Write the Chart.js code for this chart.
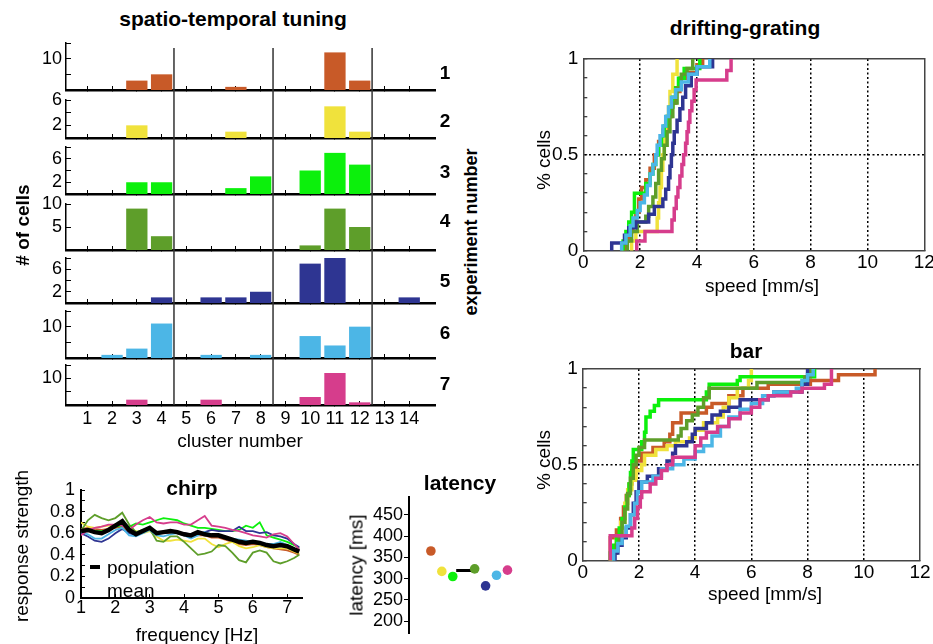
<!DOCTYPE html>
<html><head><meta charset="utf-8">
<script src="https://cdn.jsdelivr.net/npm/chart.js@4.4.1/dist/chart.umd.min.js"></script>
<style>
html,body{margin:0;padding:0;background:#fff;overflow:hidden;}
#fig{position:relative;width:933px;height:644px;overflow:hidden;background:#fff;}
.t{position:absolute;white-space:nowrap;line-height:1;font-family:'Liberation Sans',Arial,sans-serif;color:#000;z-index:10;}
canvas{position:absolute;}
</style></head><body><div id="fig"></div>
<script>
// ---------------- DATA ----------------
const expColors = ['#C85A28','#F0E23C','#0CF00C','#5E9E2A','#2E3592','#4CB6E6','#D63D8C'];
const expNames = ['1','2','3','4','5','6','7'];

// spatio-temporal tuning: # of cells per cluster
const clusters = [1,2,3,4,5,6,7,8,9,10,11,12,13,14];
const exp1 = [0,0,3,5,0,0,1,0,0,0,12,3,0,0];
const exp2 = [0,0,2,0,0,0,1,0,0,0,5,1,0,0];
const exp3 = [0,0,2,2,0,0,1,3,0,4,7,5,0,0];
const exp4 = [0,0,9,3,0,0,0,0,0,1,9,5,0,0];
const exp5 = [0,0,0,1,0,1,1,2,0,7,8,0,0,1];
const exp6 = [0,1,3,11,0,1,0,1,0,7,4,10,0,0];
const exp7 = [0,0,2,0,0,2,0,0,0,3,12,1,0,0];
const clusterBoundaries = [4.5, 8.5, 12.5];
const panelYMax = [15,6,8,10,8,15,15];
const panelYTicks = [[5,10,15],[2,4,6],[2,4,6,8],[5,10],[2,4,6,8],[5,10,15],[5,10,15]];
const panelYLabels = [[10],[2,6],[2,6],[5,10],[2,6],[10],[10]];

// chirp
const freq = [1.0,1.2,1.4,1.6,1.8,2.0,2.2,2.4,2.6,2.8,3.0,3.2,3.4,3.6,3.8,4.0,4.2,4.4,4.6,4.8,5.0,5.2,5.4,5.6,5.8,6.0,6.2,6.4,6.6,6.8,7.0,7.2,7.35];
const chirpMean = [0.62,0.63,0.61,0.60,0.63,0.67,0.71,0.63,0.59,0.62,0.65,0.60,0.61,0.62,0.61,0.59,0.58,0.61,0.59,0.58,0.58,0.56,0.54,0.52,0.51,0.52,0.51,0.49,0.48,0.49,0.48,0.45,0.43];
const chirp1 = [0.64,0.65,0.64,0.63,0.64,0.65,0.66,0.61,0.60,0.62,0.64,0.61,0.60,0.60,0.60,0.58,0.57,0.58,0.58,0.56,0.56,0.54,0.52,0.50,0.49,0.50,0.49,0.47,0.46,0.45,0.44,0.42,0.40];
const chirp2 = [0.70,0.66,0.65,0.66,0.67,0.68,0.67,0.63,0.62,0.60,0.62,0.57,0.53,0.53,0.54,0.53,0.52,0.55,0.55,0.50,0.47,0.50,0.52,0.48,0.46,0.47,0.49,0.47,0.46,0.46,0.46,0.43,0.41];
const chirp3 = [0.62,0.63,0.62,0.62,0.63,0.66,0.67,0.66,0.69,0.68,0.70,0.72,0.74,0.73,0.72,0.69,0.67,0.65,0.65,0.64,0.63,0.62,0.62,0.63,0.67,0.65,0.70,0.58,0.56,0.54,0.52,0.49,0.46];
const chirp4 = [0.62,0.72,0.77,0.74,0.72,0.74,0.79,0.68,0.61,0.63,0.64,0.53,0.52,0.57,0.57,0.52,0.46,0.40,0.41,0.43,0.49,0.48,0.42,0.35,0.33,0.42,0.44,0.42,0.34,0.32,0.34,0.37,0.40];
const chirp5 = [0.60,0.57,0.53,0.52,0.55,0.60,0.64,0.60,0.58,0.62,0.64,0.60,0.60,0.61,0.60,0.60,0.59,0.60,0.61,0.63,0.62,0.62,0.62,0.66,0.62,0.62,0.60,0.61,0.58,0.57,0.55,0.50,0.47];
const chirp6 = [0.61,0.59,0.55,0.55,0.59,0.63,0.65,0.58,0.57,0.60,0.63,0.58,0.57,0.59,0.60,0.58,0.55,0.58,0.61,0.59,0.57,0.56,0.55,0.54,0.53,0.52,0.51,0.50,0.50,0.52,0.49,0.46,0.44];
const chirp7 = [0.58,0.63,0.65,0.66,0.68,0.68,0.67,0.63,0.68,0.72,0.75,0.70,0.69,0.70,0.70,0.68,0.68,0.72,0.76,0.67,0.66,0.65,0.63,0.62,0.60,0.58,0.57,0.56,0.59,0.60,0.57,0.50,0.45];
const freqTicks = [1,2,3,4,5,6,7];
const chirpYTicks = [0,0.1,0.2,0.3,0.4,0.5,0.6,0.7,0.8,0.9,1];
const chirpYLabels = [0,0.2,0.4,0.6,0.8,1];

// latency
const latencyPos = [1,2,3,5,6,7,8];
const latency = [365,317,305,323,283,308,320];
const latencyMeanPos = 4;
const latencyMean = 319;
const latencyTicks = [200,250,300,350,400,450];

// speed tuning CDFs: [speed mm/s, fraction of cells]
const dg1 = [[1.45,0],[1.45,0.05],[1.6,0.1],[1.75,0.15],[1.85,0.2],[1.95,0.27],[2.05,0.33],[2.2,0.37],[2.35,0.43],[2.5,0.5],[2.65,0.57],[2.8,0.63],[2.95,0.7],[3.1,0.77],[3.25,0.83],[3.4,0.9],[3.6,0.93],[4.0,0.97],[4.2,1.0]];
const dg2 = [[1.7,0],[1.7,0.05],[1.85,0.1],[2.6,0.1],[2.6,0.17],[2.65,0.25],[2.7,0.33],[2.75,0.42],[2.8,0.5],[2.85,0.58],[2.9,0.67],[3.0,0.75],[3.05,0.83],[3.15,0.92],[3.3,1.0]];
const dg3 = [[1.4,0],[1.4,0.05],[1.5,0.1],[1.6,0.15],[1.7,0.2],[1.8,0.3],[2.15,0.3],[2.2,0.35],[2.35,0.4],[2.45,0.45],[2.55,0.5],[2.65,0.55],[2.75,0.6],[2.85,0.65],[2.95,0.7],[3.05,0.75],[3.15,0.8],[3.25,0.85],[3.35,0.9],[3.55,0.95],[4.1,1.0]];
const dg4 = [[1.55,0],[1.55,0.05],[1.7,0.1],[1.9,0.15],[2.2,0.18],[2.3,0.23],[2.45,0.28],[2.55,0.35],[2.65,0.42],[2.75,0.48],[2.85,0.55],[2.95,0.62],[3.05,0.7],[3.15,0.77],[3.3,0.85],[3.45,0.92],[3.65,0.95],[3.85,1.0]];
const dg5 = [[1.0,0],[1.0,0.04],[1.45,0.04],[1.45,0.08],[1.6,0.12],[1.85,0.15],[2.3,0.15],[2.3,0.19],[2.5,0.23],[2.75,0.23],[2.8,0.27],[2.9,0.32],[3.0,0.38],[3.05,0.44],[3.1,0.5],[3.15,0.56],[3.2,0.62],[3.3,0.68],[3.4,0.74],[3.5,0.8],[3.6,0.86],[3.8,0.92],[4.0,0.96],[4.55,1.0]];
const dg6 = [[1.35,0],[1.35,0.04],[1.5,0.08],[1.65,0.13],[1.75,0.17],[1.9,0.21],[2.0,0.25],[2.15,0.29],[2.25,0.34],[2.35,0.4],[2.45,0.45],[2.55,0.5],[2.6,0.55],[2.7,0.6],[2.8,0.65],[2.9,0.7],[3.0,0.75],[3.1,0.8],[3.25,0.84],[3.45,0.88],[3.7,0.92],[4.0,0.96],[4.45,1.0]];
const dg7 = [[1.88,0],[1.88,0.05],[2.17,0.1],[3.12,0.16],[3.2,0.22],[3.27,0.28],[3.33,0.33],[3.4,0.39],[3.47,0.45],[3.53,0.5],[3.6,0.56],[3.65,0.62],[3.7,0.67],[3.75,0.73],[3.82,0.78],[3.9,0.84],[3.97,0.89],[5.05,0.94],[5.2,1.0]];

const bar1 = [[0.98,0],[0.98,0.12],[1.2,0.16],[1.35,0.22],[1.45,0.28],[1.55,0.34],[1.65,0.4],[1.75,0.47],[1.9,0.52],[2.1,0.56],[2.5,0.59],[2.9,0.62],[3.1,0.66],[3.2,0.72],[3.5,0.77],[4.4,0.8],[4.6,0.82],[5.2,0.86],[5.7,0.9],[6.6,0.92],[8.1,0.94],[9.1,0.97],[10.4,1.0]];
const bar2 = [[1.0,0],[1.0,0.05],[1.2,0.12],[1.35,0.2],[1.5,0.3],[1.6,0.37],[1.75,0.42],[1.9,0.47],[2.1,0.5],[2.2,0.55],[2.6,0.58],[3.0,0.6],[3.3,0.62],[3.8,0.64],[4.0,0.68],[4.3,0.72],[4.8,0.75],[5.0,0.8],[5.2,0.85],[5.5,0.9],[5.9,0.94],[6.0,1.0]];
const bar3 = [[0.98,0],[0.98,0.04],[1.1,0.08],[1.2,0.12],[1.3,0.17],[1.4,0.22],[1.5,0.28],[1.58,0.34],[1.65,0.4],[1.7,0.46],[1.75,0.52],[1.8,0.58],[2.1,0.62],[2.2,0.67],[2.25,0.75],[2.4,0.78],[2.55,0.81],[2.7,0.84],[4.4,0.88],[4.5,0.92],[5.5,0.94],[5.6,0.96],[8.25,1.0]];
const bar4 = [[1.1,0],[1.1,0.04],[1.2,0.08],[1.3,0.13],[1.4,0.2],[1.5,0.27],[1.6,0.35],[1.7,0.43],[1.8,0.5],[1.9,0.55],[2.0,0.59],[2.2,0.63],[3.4,0.65],[3.5,0.69],[3.7,0.73],[3.9,0.76],[4.1,0.8],[4.3,0.85],[4.5,0.9],[6.2,0.93],[7.9,0.96],[8.1,1.0]];
const bar5 = [[1.15,0],[1.15,0.04],[1.25,0.08],[1.4,0.12],[1.55,0.17],[1.7,0.24],[1.8,0.3],[1.9,0.36],[2.0,0.41],[2.3,0.44],[2.7,0.48],[3.0,0.52],[3.2,0.56],[3.3,0.6],[3.7,0.62],[3.9,0.66],[4.0,0.69],[4.4,0.72],[4.6,0.76],[4.9,0.78],[5.2,0.8],[5.6,0.84],[6.6,0.86],[6.8,0.88],[7.8,0.92],[8.0,1.0]];
const bar6 = [[1.1,0],[1.1,0.05],[1.25,0.09],[1.4,0.13],[1.55,0.18],[1.7,0.24],[1.85,0.3],[1.95,0.36],[2.1,0.41],[2.5,0.44],[2.8,0.48],[3.2,0.5],[3.6,0.53],[4.0,0.57],[4.3,0.6],[4.6,0.65],[4.9,0.7],[5.2,0.75],[5.6,0.79],[6.0,0.82],[6.4,0.86],[6.8,0.88],[7.6,0.9],[7.8,0.94],[8.0,0.97],[8.2,1.0]];
const bar7 = [[0.98,0],[0.98,0.13],[1.75,0.17],[1.85,0.22],[1.95,0.28],[2.05,0.33],[2.1,0.36],[2.4,0.4],[2.6,0.43],[2.8,0.47],[3.0,0.5],[3.2,0.54],[4.0,0.6],[4.2,0.64],[4.4,0.67],[4.8,0.7],[5.2,0.74],[5.6,0.77],[6.0,0.8],[6.3,0.84],[6.6,0.86],[7.4,0.88],[7.8,0.9],[8.6,0.92],[8.85,1.0]];
const speedTicks = [0,2,4,6,8,10,12];
const pctTicks = [0,0.1,0.2,0.3,0.4,0.5,0.6,0.7,0.8,0.9,1];
const pctLabels = [0,0.5,1];

// ---------------- RENDER ----------------
const FONT = "'Liberation Sans', Arial, sans-serif";
Chart.defaults.font.family = FONT;
Chart.defaults.color = '#000';
const fig = document.getElementById('fig');
const TICK = 18;

function addCanvas(l, t, w, h, z) {
  const c = document.createElement('canvas');
  c.width = w; c.height = h;
  c.style.cssText = `left:${l}px;top:${t}px;width:${w}px;height:${h}px;z-index:${z||1}`;
  fig.appendChild(c);
  return c;
}
function txt(s, x, y, size, bold, rot, anchorLeft) {
  const d = document.createElement('div');
  d.className = 't';
  d.textContent = s;
  d.style.left = x + 'px'; d.style.top = y + 'px';
  d.style.fontSize = size + 'px';
  d.style.fontWeight = bold ? 'bold' : 'normal';
  d.style.transform = (anchorLeft ? 'translate(0,-50%)' : 'translate(-50%,-50%)') + (rot ? ' rotate(-90deg)' : '');
  fig.appendChild(d);
}
const baseOpts = () => ({
  responsive: false, animation: false, events: [],
  plugins: { legend: { display: false }, tooltip: { enabled: false } }
});
const fixW = w => s => { s.width = w; s.paddingTop = 0; s.paddingBottom = 0; };
const fixH = h => s => { s.height = h; s.paddingLeft = 0; s.paddingRight = 0; };

// ---- spatio-temporal tuning panels ----
const expCounts = [exp1, exp2, exp3, exp4, exp5, exp6, exp7];
const panelTop = [43,100,147,204,258,311,365];
const panelBottom = [90,138,194,250,303,358,405];
const CL_MIN = 0.14, CL_MAX = 15.04;
expCounts.forEach((vals, i) => {
  const last = i === 6;
  const padTop = 12, xH = last ? 30 : 3;
  const h = panelBottom[i] - panelTop[i] + padTop + xH;
  const cv = addCanvas(0, panelTop[i] - padTop, 440, h, 1);
  new Chart(cv, {
    type: 'bar',
    data: { datasets: [{ data: clusters.map((c, k) => ({ x: c, y: vals[k] })), backgroundColor: expColors[i], borderWidth: 0, barPercentage: 0.86, categoryPercentage: 1 }] },
    options: Object.assign(baseOpts(), {
      layout: { padding: { top: padTop, right: 5, left: 0, bottom: 0 } },
      scales: {
        x: { type: 'linear', min: CL_MIN, max: CL_MAX, offset: false,
          afterBuildTicks: s => { s.ticks = clusters.map(v => ({ value: v })); },
          afterFit: fixH(xH),
          grid: { offset: false, drawOnChartArea: false, drawTicks: true, tickLength: -4, color: '#000', tickColor: '#000', tickWidth: 1 },
          border: { display: true, color: '#000', width: 2.5 },
          ticks: { display: last, autoSkip: false, maxRotation: 0, padding: 7, font: { size: TICK }, color: '#000' } },
        y: { min: 0, max: panelYMax[i],
          afterBuildTicks: s => { s.ticks = panelYTicks[i].map(v => ({ value: v })); },
          afterFit: fixW(66),
          grid: { drawOnChartArea: false, drawTicks: true, tickLength: -5, color: '#000', tickColor: '#000', tickWidth: 1 },
          border: { display: true, color: '#000', width: 1.5 },
          ticks: { padding: 9, font: { size: TICK }, color: '#000', autoSkip: false, callback: v => panelYLabels[i].includes(v) ? String(v) : '' } }
      }
    })
  });
});
// cluster-group separators spanning all panels
const ov = addCanvas(66, 48, 369, 357, 3);
new Chart(ov, {
  type: 'scatter',
  data: { datasets: clusterBoundaries.map(b => ({ data: [{ x: b, y: 0 }, { x: b, y: 1 }], showLine: true, borderColor: '#333', borderWidth: 1.5, pointRadius: 0 })) },
  options: Object.assign(baseOpts(), {
    layout: { padding: 0 },
    scales: { x: { type: 'linear', min: CL_MIN, max: CL_MAX, display: false }, y: { min: 0, max: 1, display: false } }
  })
});

// ---- chirp ----
const chirpSeries = [chirp1, chirp2, chirp3, chirp4, chirp5, chirp6, chirp7];
const chc = addCanvas(0, 470, 330, 174, 1);
new Chart(chc, {
  type: 'scatter',
  data: { datasets: [
    { data: freq.map((f, k) => ({ x: f, y: chirpMean[k] })), showLine: true, borderColor: '#000', borderWidth: 4.5, pointRadius: 0, order: 0 },
    ...chirpSeries.map((s, i) => ({ data: freq.map((f, k) => ({ x: f, y: s[k] })), showLine: true, borderColor: expColors[i], borderWidth: 1.8, pointRadius: 0, order: 7 - i }))
  ] },
  options: Object.assign(baseOpts(), {
    layout: { padding: { top: 20, right: 28, left: 0, bottom: 0 } },
    scales: {
      x: { type: 'linear', min: 1, max: 7.43,
        afterBuildTicks: s => { s.ticks = freqTicks.map(v => ({ value: v })); },
        afterFit: fixH(46),
        grid: { drawOnChartArea: false, tickLength: -4, color: '#000', tickColor: '#000', tickWidth: 1 },
        border: { color: '#000', width: 2 },
        ticks: { padding: 3.5, font: { size: TICK }, maxRotation: 0, autoSkip: false } },
      y: { min: 0, max: 1,
        afterBuildTicks: s => { s.ticks = chirpYTicks.map(v => ({ value: v })); },
        afterFit: fixW(81),
        grid: { drawOnChartArea: false, tickLength: -4, color: '#000', tickColor: '#000', tickWidth: 1 },
        border: { color: '#000', width: 2 },
        ticks: { padding: 10, font: { size: TICK }, autoSkip: false, callback: v => chirpYLabels.some(l => Math.abs(l - v) < 1e-9) ? String(v) : '' } }
    }
  })
});

// ---- latency ----
const ltc = addCanvas(330, 470, 200, 174, 1);
new Chart(ltc, {
  type: 'scatter',
  data: { datasets: [
    { data: latencyPos.map((x, k) => ({ x: x, y: latency[k] })), pointRadius: 4.8, pointBackgroundColor: expColors, pointBorderWidth: 0, pointBorderColor: expColors },
    { data: [{ x: latencyMeanPos, y: latencyMean }], pointStyle: 'line', pointRadius: 7.5, pointBorderColor: '#000', pointBorderWidth: 3 }
  ] },
  options: Object.assign(baseOpts(), {
    layout: { padding: { top: 27, right: 10, left: 0, bottom: 9 } },
    scales: {
      x: { type: 'linear', min: -1, max: 9.1, display: false },
      y: { min: 171, max: 492,
        afterBuildTicks: s => { s.ticks = latencyTicks.map(v => ({ value: v })); },
        afterFit: fixW(79),
        grid: { drawOnChartArea: false, tickLength: 5, color: '#000', tickColor: '#000', tickWidth: 1 },
        border: { color: '#000', width: 2 },
        ticks: { padding: 1, font: { size: TICK }, autoSkip: false } }
    }
  })
});

// ---- speed CDF charts ----
function cdfChart(left, top, series, h) {
  const cv = addCanvas(left, top, 440, 260, 1);
  new Chart(cv, {
    type: 'scatter',
    data: { datasets: series.map((s, i) => ({ data: s.map(p => ({ x: p[0], y: p[1] })), showLine: true, stepped: true, borderColor: expColors[i], borderWidth: 3.5, pointRadius: 0, order: 6 - i })) },
    options: Object.assign(baseOpts(), {
      layout: { padding: { top: 19, right: h.padRight, left: 0, bottom: 0 } },
      scales: {
        x: { type: 'linear', min: 0, max: 12,
          afterBuildTicks: s => { s.ticks = speedTicks.map(v => ({ value: v })); },
          afterFit: fixH(49.3),
          grid: { drawTicks: false, lineWidth: 1.5, color: c => (c.tick && c.tick.value > 0 && c.tick.value < 12) ? '#000' : 'rgba(0,0,0,0)' },
          border: { display: true, color: '#444', width: 1.5, dash: [2, 2.5] },
          ticks: { padding: 1, font: { size: 19 }, maxRotation: 0, autoSkip: false } },
        y: { min: 0, max: 1,
          afterBuildTicks: s => { s.ticks = pctTicks.map(v => ({ value: v })); },
          afterFit: fixW(h.yW),
          grid: { drawTicks: true, tickLength: -4, tickColor: '#000', tickWidth: 1, lineWidth: 1.5, color: c => (c.tick && Math.abs(c.tick.value - 0.5) < 1e-9) ? '#000' : 'rgba(0,0,0,0)' },
          border: { display: true, color: '#444', width: 1.5, dash: [2, 2.5] },
          ticks: { padding: 9, font: { size: 19 }, autoSkip: false, callback: v => pctLabels.includes(v) ? String(v) : '' } },
        x2: { axis: 'x', type: 'linear', position: 'top', min: 0, max: 12, ticks: { display: false }, grid: { display: false }, border: { display: true, color: '#444', width: 1.5 }, afterFit: fixH(0) },
        y2: { axis: 'y', type: 'linear', position: 'right', min: 0, max: 1, ticks: { display: false }, grid: { display: false }, border: { display: true, color: '#444', width: 1.5 }, afterFit: fixW(0) }
      }
    })
  });
}
cdfChart(520, 40, [dg1, dg2, dg3, dg4, dg5, dg6, dg7], { padRight: 440 - (924.3 - 520), yW: 63.3 });
cdfChart(520, 350, [bar1, bar2, bar3, bar4, bar5, bar6, bar7], { padRight: 440 - (920 - 520), yW: 62.7 });

// ---------------- TEXT ----------------
txt('spatio-temporal tuning', 233, 18, 21, true);
txt('# of cells', 22, 225, 19, true, true);
txt('experiment number', 471, 232, 18, true, true);
const expLabelY = [72,120,171,220,280,332,383];
expNames.forEach((n, i) => txt(n, 445, expLabelY[i], 19, true));
txt('cluster number', 240, 440, 19);
txt('chirp', 192, 487, 21, true);
txt('response strength', 21, 546, 19, false, true);
txt('frequency [Hz]', 197, 634, 19);
txt('population', 107, 567, 19, false, false, true);
txt('mean', 107, 590, 19, false, false, true);
const sw = document.createElement('div');
sw.style.cssText = 'position:absolute;left:90px;top:565px;width:10px;height:4px;background:#000;z-index:10';
fig.appendChild(sw);
txt('latency', 460, 482, 21, true);
txt('latency [ms]', 356, 565, 19, false, true);
txt('drifting-grating', 745, 27, 21, true);
txt('% cells', 543, 160, 19, false, true);
txt('speed [mm/s]', 762, 285, 19);
txt('bar', 746, 350, 21, true);
txt('% cells', 543, 460, 19, false, true);
txt('speed [mm/s]', 765, 593, 19);
</script></body></html>
